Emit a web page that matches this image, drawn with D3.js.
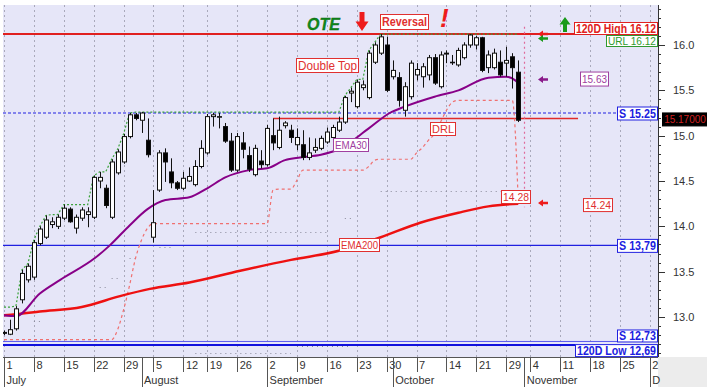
<!DOCTYPE html>
<html><head><meta charset="utf-8">
<script src="https://cdn.jsdelivr.net/npm/d3@7"></script>
<style>body{margin:0;background:#fff;} svg{display:block;font-family:Arial,"Liberation Sans",sans-serif;}</style>
</head><body><svg id="c" width="707" height="387"></svg>
<script>
// ---------- DATA ----------
const opens  = [12.83,12.81,12.87,13.19,13.41,13.44,13.81,13.88,14.02,14.00,14.09,14.19,13.98,14.09,14.13,14.10,14.50,14.42,14.10,14.59,14.71,14.99,15.23,15.17,14.95,13.88,14.40,14.81,14.60,14.48,14.42,14.50,14.46,14.66,14.81,15.21,15.21,15.10,14.94,14.62,14.92,14.78,14.57,14.72,14.68,15.00,14.87,15.11,15.06,14.90,14.90,14.76,14.84,14.86,14.93,14.98,15.06,15.15,15.47,15.32,15.53,15.42,15.81,15.91,16.00,15.65,15.64,15.28,15.43,15.67,15.65,15.67,15.86,15.54,15.90,15.81,15.78,15.86,16.00,16.00,16.08,15.75,15.75,15.81,15.80,15.87,15.70];
const highs  = [12.85,12.97,13.12,13.52,13.59,13.85,14.00,14.12,14.10,14.13,14.24,14.21,14.13,14.21,14.21,14.56,14.60,14.46,14.74,14.85,15.02,15.25,15.25,15.26,15.19,14.40,14.84,14.86,14.75,14.50,14.60,14.65,14.73,14.95,15.24,15.25,15.25,15.14,15.03,15.03,15.04,14.88,14.90,14.84,15.12,15.19,15.21,15.16,15.12,15.08,15.06,14.98,14.97,15.00,15.09,15.12,15.21,15.44,15.53,15.62,15.61,15.94,16.03,16.12,16.09,15.83,15.70,15.59,15.83,15.80,15.80,15.89,15.90,15.93,15.94,15.89,15.97,16.03,16.12,16.10,16.09,15.94,15.96,15.94,15.98,15.91,15.83];
const lows   = [12.80,12.80,12.85,13.15,13.38,13.41,13.79,13.86,13.98,13.97,14.07,14.04,13.92,14.06,13.99,14.08,14.42,14.20,14.08,14.57,14.69,14.97,15.17,15.03,14.76,13.82,14.38,14.49,14.42,14.40,14.40,14.49,14.44,14.64,14.79,15.10,15.08,14.92,14.60,14.60,14.75,14.60,14.55,14.64,14.66,14.84,14.85,15.08,14.92,14.84,14.73,14.73,14.81,14.84,14.91,14.96,15.04,15.13,15.37,15.30,15.50,15.40,15.79,15.89,15.48,15.62,15.32,15.21,15.40,15.61,15.53,15.61,15.56,15.52,15.80,15.78,15.76,15.84,15.97,15.95,15.70,15.69,15.73,15.65,15.65,15.52,15.15];
const closes = [12.82,12.86,13.09,13.48,13.56,13.82,13.97,14.07,14.05,14.10,14.20,14.05,14.10,14.18,14.16,14.54,14.54,14.23,14.71,14.82,14.99,15.23,15.19,15.25,14.79,14.04,14.81,14.71,14.48,14.42,14.53,14.55,14.66,14.86,15.21,15.23,15.21,14.94,14.62,14.99,14.85,14.63,14.86,14.68,15.08,14.92,15.06,15.14,14.98,14.98,14.76,14.81,14.87,14.97,15.04,15.09,15.15,15.42,15.49,15.59,15.56,15.91,16.00,16.09,15.50,15.72,15.39,15.54,15.80,15.73,15.76,15.86,15.58,15.89,15.91,15.81,15.94,16.00,16.11,16.08,15.72,15.89,15.91,15.67,15.83,15.75,15.17];

// EMA lines, read at sample trading-day indices
const ema30Idx  = [0,2,6,9.4,15.2,17.7,21,24,27,31,34,37,41,44,47,49.5,53,56,61,64.5,67,72,76,81,84,85.5,86];
const ema30Val  = [13.02,13.01,13.26,13.41,13.65,13.79,14.01,14.19,14.29,14.32,14.42,14.54,14.62,14.64,14.73,14.76,14.79,14.85,15.08,15.25,15.32,15.43,15.50,15.64,15.65,15.61,15.58];
const ema200Idx = [0,2,6,13,19.4,24.4,31,39.5,48,56,63,69.6,76,81,86];
const ema200Val = [13.02,13.03,13.06,13.11,13.23,13.31,13.38,13.51,13.63,13.73,13.88,14.04,14.15,14.22,14.25];

// DRL (pink dashed), one value per trading day
const drl = [12.75,12.75,12.75,12.75,12.75,12.75,12.75,12.75,12.75,12.75,12.75,12.75,12.75,12.75,12.75,12.75,12.75,12.75,12.75,
  12.86,13.08,13.35,13.65,13.85,13.98,
  14.03,14.03,14.03,14.03,14.03,14.03,14.03,14.03,14.03,14.03,14.03,14.03,14.03,14.03,14.03,14.03,14.03,14.03,14.03,14.03,
  14.40,14.41,14.41,14.41,14.51,
  14.62,14.62,14.62,14.62,14.62,14.62,14.62,14.62,14.62,14.62,14.62,
  14.66,14.73,14.74,14.74,14.74,14.74,14.74,14.74,
  14.81,14.87,14.95,15.02,15.15,15.28,15.37,
  15.39,15.39,15.39,15.39,15.39,15.39,15.39,15.39,15.39,15.39,14.28];

// URL (green dotted upper resistance), one value per trading day
const url = [13.11,13.11,13.12,13.52,13.59,13.85,14.00,14.12,14.13,14.13,14.24,14.24,14.24,14.24,14.24,14.56,14.60,14.60,14.74,14.85,15.02,15.25,
  15.26,15.26,15.26,15.26,15.26,15.26,15.26,15.26,15.26,15.26,15.26,15.26,15.26,15.26,15.26,15.26,15.26,15.26,15.26,15.26,15.26,15.26,15.26,15.26,15.26,15.26,15.26,15.26,15.26,15.26,15.26,15.26,15.26,15.26,15.26,
  15.44,15.53,15.62,15.62,15.94,16.03,
  16.12,16.12,16.12,16.12,16.12,16.12,16.12,16.12,16.12,16.12,16.12,16.12,16.12,16.12,16.12,16.12,16.12,16.12,16.12,16.12,16.12,16.12,16.12,16.12];

// grey dotted support traces (segments: [startIdx, endIdx, value])
const greyUpper = [[5,6,12.96],[16,17,13.33],[18,19,13.43],[21,22,13.65],[26,28,13.77],[32,54,13.94],[57,58,14.09],[63,84,14.39]];
const greyLower = [[32,48,12.60],[49,58,12.68]];

// axis ticks
const dayIdx   = [0,5,10,15,20,25,30,34,39,44,49,54,59,64,69,74,79,84,88,93,98,103,108];
const dayLbl   = ["1","8","15","22","29","5","12","19","26","2","9","16","23","30","7","14","21","29","4","11","18","25","2"];
const monthIdx = [0,23,44,65,87,108];
const monthLbl = ["July","August","September","October","November","D"];
const yMajor   = [13.0,13.5,14.0,14.5,15.0,15.5,16.0];

// levels
const high120 = 16.12, low120 = 12.69, s1 = 15.25, s2 = 13.79, s3 = 12.73, neck = 15.19, lastPrice = "15.17000";
const neckStart = 45, neckEnd = 96, todayIdx = 87;

// ---------- CHART ----------
const svg = d3.select("#c");
const L = 3, R = 658, T = 5, B = 357;
const x = d3.scaleLinear().domain([0,108]).range([4,649.8]);
const y = d3.scaleLinear().domain([13,16]).range([317,45]);
const px = v => Math.round(v) + 0.5;

svg.append("rect").attr("width",707).attr("height",387).attr("fill","#fff");
svg.append("rect").attr("x",L).attr("y",T).attr("width",R-L).attr("height",B-T).attr("fill","#e6e6f8");
svg.append("rect").attr("x",R).attr("y",B).attr("width",707-R).attr("height",387-B).attr("fill","#ececec");

svg.append("defs").append("clipPath").attr("id","pc").append("rect")
  .attr("x",L).attr("y",T).attr("width",R-L).attr("height",B-T);
const g = svg.append("g").attr("clip-path","url(#pc)");

// vertical grid
g.selectAll("line.vg").data(dayIdx).join("line")
  .attr("x1",d=>px(x(d))).attr("x2",d=>px(x(d))).attr("y1",T).attr("y2",B)
  .attr("stroke","#a9a9bb").attr("stroke-dasharray","2,3").attr("stroke-width",1);

// grey dotted traces
function segs(arr, color){
  arr.forEach(s=>{
    g.append("line").attr("x1",x(s[0])).attr("x2",x(s[1])).attr("y1",px(y(s[2]))).attr("y2",px(y(s[2])))
     .attr("stroke",color).attr("stroke-width",1).attr("stroke-dasharray","1,4");
  });
}
segs(greyUpper,"#8a8a9a");
segs(greyLower,"#8a8a9a");

// horizontal levels
function hline(v, x1, x2, color, w, dash){
  const l = g.append("line").attr("x1",x1).attr("x2",x2).attr("y1",y(v)).attr("y2",y(v))
    .attr("stroke",color).attr("stroke-width",w);
  if(dash) l.attr("stroke-dasharray",dash);
}
hline(s3, L, 617, "#5a5aee", 1);
hline(low120, L, 575, "#1010dd", 2);
hline(s2, L, 617, "#2020e0", 1.3);
hline(s1, L, 617, "#2020e0", 1.2, "3,2");
hline(neck, x(neckStart), x(neckEnd), "#e02a2a", 1.5);
hline(high120, L, R, "#e02020", 2);

// DRL
const idx = d3.range(opens.length);
g.append("path").datum(idx).attr("fill","none").attr("stroke","#f07070").attr("stroke-width",1.2)
  .attr("stroke-dasharray","3,3")
  .attr("d", d3.line().x(i=>x(i)).y(i=>y(drl[i])).curve(d3.curveMonotoneX));
// today marker
g.append("line").attr("x1",px(x(todayIdx))).attr("x2",px(x(todayIdx))).attr("y1",y(16.2)).attr("y2",y(14.21))
  .attr("stroke","#e06a9a").attr("stroke-width",1.2).attr("stroke-dasharray","2,3");

// URL green dotted
g.append("path").datum(idx).attr("fill","none").attr("stroke","#3aa23a").attr("stroke-width",1.2)
  .attr("stroke-dasharray","2,2")
  .attr("d", d3.line().x(i=>x(i)).y(i=>y(url[i])));

// EMA200
g.append("path").datum(d3.range(ema200Idx.length)).attr("fill","none").attr("stroke","#ee1111").attr("stroke-width",2.5)
  .attr("d", d3.line().x(k=>x(ema200Idx[k])).y(k=>y(ema200Val[k])).curve(d3.curveMonotoneX));
// EMA30
g.append("path").datum(d3.range(ema30Idx.length)).attr("fill","none").attr("stroke","#880088").attr("stroke-width",2)
  .attr("d", d3.line().x(k=>x(ema30Idx[k])).y(k=>y(ema30Val[k])).curve(d3.curveMonotoneX));

// candles
const cg = g.append("g");
cg.selectAll("line.w").data(idx).join("line")
  .attr("x1",i=>px(x(i))).attr("x2",i=>px(x(i))).attr("y1",i=>y(highs[i])).attr("y2",i=>y(lows[i]))
  .attr("stroke","#111").attr("stroke-width",1);
cg.selectAll("rect.b").data(idx).join("rect")
  .attr("x",i=>Math.round(x(i))-1.5).attr("width",4)
  .attr("y",i=>y(Math.max(opens[i],closes[i])))
  .attr("height",i=>Math.max(0.6, Math.abs(y(opens[i])-y(closes[i]))))
  .attr("fill",i=>closes[i]>=opens[i]?"#ffffff":"#000000")
  .attr("stroke","#111").attr("stroke-width",1);

// ---------- right axis ----------
svg.append("rect").attr("x",R).attr("y",0).attr("width",707-R).attr("height",B).attr("fill","#fff");
svg.append("line").attr("x1",R+0.5).attr("x2",R+0.5).attr("y1",T).attr("y2",B).attr("stroke","#333");
const minor = d3.range(126,165).map(v=>v/10);
svg.selectAll("line.mt").data(minor).join("line")
  .attr("x1",R).attr("x2",d=>R + (Math.abs(d*2-Math.round(d*2))<1e-6 ? 7 : 3))
  .attr("y1",d=>px(y(d))).attr("y2",d=>px(y(d))).attr("stroke","#333");
svg.selectAll("text.yl").data(yMajor).join("text")
  .attr("x",673).attr("y",d=>y(d)+4).attr("font-size",11).attr("fill","#333").text(d=>d.toFixed(1));

// ---------- bottom axis ----------
svg.append("rect").attr("x",0).attr("y",B).attr("width",R).attr("height",387-B).attr("fill","#fff");
svg.append("line").attr("x1",L).attr("x2",R).attr("y1",B+0.5).attr("y2",B+0.5).attr("stroke","#555");
svg.selectAll("line.dt").data(dayIdx).join("line")
  .attr("x1",d=>px(x(d))).attr("x2",d=>px(x(d))).attr("y1",B).attr("y2",B+15).attr("stroke","#555");
svg.selectAll("text.dl").data(dayIdx).join("text")
  .attr("x",d=>x(d)+2.5).attr("y",B+12).attr("font-size",11).attr("fill","#333").text((d,k)=>dayLbl[k]);
svg.selectAll("line.mt2").data(monthIdx).join("line")
  .attr("x1",d=>px(x(d))).attr("x2",d=>px(x(d))).attr("y1",B).attr("y2",387).attr("stroke","#555");
svg.selectAll("text.ml").data(monthIdx).join("text")
  .attr("x",d=>x(d)+2.5).attr("y",B+27).attr("font-size",11).attr("fill","#333").text((d,k)=>monthLbl[k]);

// ---------- annotations ----------
const an = svg.append("g");
function box(x0,y0,w,h,txt,color,opt={}){
  an.append("rect").attr("x",x0+0.5).attr("y",y0+0.5).attr("width",w).attr("height",h)
    .attr("fill",opt.fill||"#ffffff").attr("stroke",opt.stroke||color).attr("stroke-width",1);
  const t = an.append("text").attr("x",x0+w/2+0.5).attr("y",y0+h/2+0.5).attr("text-anchor","middle")
    .attr("dominant-baseline","central").attr("font-size",opt.size||11)
    .attr("font-weight",opt.bold?"bold":"normal").attr("fill",color).text(txt);
  const len = t.node().getComputedTextLength();
  if(len > w-3) t.attr("textLength",w-3).attr("lengthAdjust","spacingAndGlyphs");
}
box(296,58,62,14,"Double Top","#e03030",{size:12});
box(380,14,48,15,"Reversal","#e03030",{size:12,bold:true});
box(574,22,83,12,"120D High 16.12","#e02020",{size:12,bold:true});
box(606,35,51,11,"URL 16.12","#2f9a2f",{size:11});
box(580,y(15.63)-7,28,14,"15.63","#a040a0",{size:11});
box(617,y(s1)-6.5,40,13,"S 15.25","#2020e0",{size:12,bold:true});
box(662,y(neck)-6,45,13,lastPrice,"#d02020",{size:10,fill:"#000",stroke:"#000"});
box(333,138,35,13,"EMA30","#a040a0",{size:11});
box(430,122,25,13,"DRL","#e03030",{size:11});
box(501,190,29,13,"14.28","#e03030",{size:11});
box(583,y(14.24)-6.5,29,13,"14.24","#e03030",{size:11});
box(339,238,40,13,"EMA200","#e03030",{size:11});
box(617,y(s2)-6.5,40,13,"S 13,79","#2020e0",{size:12,bold:true});
box(617,y(s3)-12,40,12,"S 12,73","#2020e0",{size:12,bold:true});
box(575,y(low120)-1,82,12,"120D Low 12,69","#2020e0",{size:12,bold:true});

// arrows
function downArrow(cx,top,bot,color){
  const hy = top + (bot-top)*0.5;
  an.append("path").attr("fill",color)
    .attr("d",`M${cx-2.5},${top}H${cx+2.5}V${hy}H${cx+6.5}L${cx},${bot}L${cx-6.5},${hy}H${cx-2.5}Z`);
}
function upArrow(cx,top,bot,color){
  const hy = top + (bot-top)*0.5;
  an.append("path").attr("fill",color)
    .attr("d",`M${cx-2},${bot}H${cx+2}V${hy}H${cx+5.5}L${cx},${top}L${cx-5.5},${hy}H${cx-2}Z`);
}
function leftArrow(x0,yc,color){
  an.append("path").attr("fill",color)
    .attr("d",`M${x0},${yc}L${x0+5},${yc-3.5}V${yc-1.2}H${x0+10}V${yc+1.2}H${x0+5}V${yc+3.5}Z`);
}
downArrow(362,12,31,"#ee1c1c");
upArrow(565,17,32,"#1a9a1a");
leftArrow(538,34,"#ee1c1c");
leftArrow(538,38.5,"#1a9a1a");
leftArrow(538,y(15.63)+1,"#8a1a8a");
leftArrow(538,203,"#ee1c1c");

an.append("text").attr("x",307).attr("y",30).attr("font-size",16).attr("font-weight","bold")
  .attr("font-style","italic").attr("fill","#0f8a1a").attr("stroke","#0a5a10").attr("stroke-width",0.3).text("OTE");
an.append("text").attr("x",440).attr("y",27).attr("font-size",26).attr("font-weight","bold")
  .attr("font-style","italic").attr("fill","#ee1c1c").text("!");
</script></body></html>
